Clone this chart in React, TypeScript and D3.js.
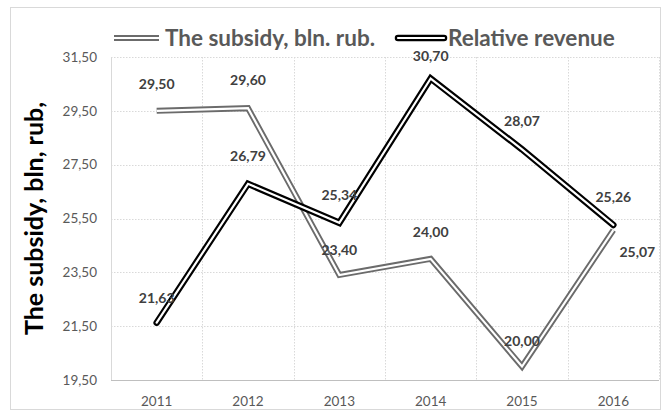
import React from "react";
import * as d3 from "d3";

const years = ["2011", "2012", "2013", "2014", "2015", "2016"];
const subsidy = [29.5, 29.6, 23.4, 24.0, 20.0, 25.07];
const revenue = [21.63, 26.79, 25.34, 30.7, 28.07, 25.26];
const yTicks = [19.5, 21.5, 23.5, 25.5, 27.5, 29.5, 31.5];
const seriesNames = ["The subsidy, bln. rub.", "Relative revenue"];
const yTitle = "The subsidy, bln, rub,";

// label offsets (dx, dy) relative to point
const subsidyLabelOff: [number, number][] = [[0, -27], [0, -28], [0, -25], [0, -27], [0, -25], [24, 22]];
const revenueLabelOff: [number, number][] = [[0, -25], [0, -28], [0, -28], [0, -22], [0, -28], [0, -28]];

const W = 668, H = 416;
const left = 111, right = 659, top = 57, bottom = 380;

const fmt = (v: number) => v.toFixed(2).replace(".", ",");

export default function App() {
  const x = d3.scaleBand<string>().domain(years).range([left, right]);
  const cx = (yr: string) => (x(yr) as number) + x.bandwidth() / 2;
  const y = d3.scaleLinear().domain([19.5, 31.5]).range([bottom, top]);
  const line = d3.line<number>().x((_, i) => cx(years[i])).y((d) => y(d));
  const font = "Lato, 'Open Sans', sans-serif";
  const boundaries = years.map((yr) => (x(yr) as number) + x.bandwidth());
  const legY = 38;

  return (
    <svg width={W} height={H} style={{ position: "absolute", left: 0, top: 0, fontFamily: font }}>
      <rect x={0} y={0} width={W} height={H} fill="#fff" />
      <rect x={10.5} y={7.5} width={650} height={402} fill="none" stroke="#d9d9d9" strokeWidth={1} />
      {/* gridlines */}
      {yTicks.slice(1).map((t) => (
        <line key={"h" + t} x1={left} x2={right} y1={Math.round(y(t)) + 0.5} y2={Math.round(y(t)) + 0.5} stroke="#d9d9d9" strokeDasharray="1.5,1.5" />
      ))}
      {boundaries.map((b, i) => (
        <line key={"v" + i} x1={Math.round(b) + 0.5} x2={Math.round(b) + 0.5} y1={top} y2={bottom} stroke="#d9d9d9" strokeDasharray="1.5,1.5" />
      ))}
      <line x1={left + 0.5} x2={left + 0.5} y1={top} y2={bottom} stroke="#d9d9d9" />
      <line x1={left} x2={right} y1={bottom + 0.5} y2={bottom + 0.5} stroke="#bfbfbf" />
      {/* y tick labels */}
      {yTicks.map((t) => (
        <text key={"yt" + t} x={97} y={y(t)} dy="0.35em" textAnchor="end" fontSize={13.5} fill="#595959">{fmt(t)}</text>
      ))}
      {/* x tick labels */}
      {years.map((yr) => (
        <text key={"xt" + yr} x={cx(yr)} y={401} dy="0.35em" textAnchor="middle" fontSize={13.5} fill="#595959">{yr}</text>
      ))}
      {/* y title */}
      <text transform={`translate(43,${(top + bottom) / 2}) rotate(-90)`} textAnchor="middle" fontSize={25} fontWeight="bold" fill="#000">{yTitle}</text>
      {/* lines */}
      <path d={line(subsidy) || ""} fill="none" stroke="#6b6b6b" strokeWidth={6} strokeLinejoin="miter" />
      <path d={line(subsidy) || ""} fill="none" stroke="#fff" strokeWidth={2.2} strokeLinejoin="miter" />
      <path d={line(revenue) || ""} fill="none" stroke="#000" strokeWidth={6.5} strokeLinejoin="miter" strokeLinecap="round" />
      <path d={line(revenue) || ""} fill="none" stroke="#fff" strokeWidth={2.2} strokeLinejoin="miter" strokeLinecap="round" />
      {/* data labels */}
      {subsidy.map((v, i) => (
        <text key={"sl" + i} x={cx(years[i]) + subsidyLabelOff[i][0]} y={y(v) + subsidyLabelOff[i][1]} dy="0.35em" textAnchor="middle" fontSize={14} fontWeight="bold" fill="#404040">{fmt(v)}</text>
      ))}
      {revenue.map((v, i) => (
        <text key={"rl" + i} x={cx(years[i]) + revenueLabelOff[i][0]} y={y(v) + revenueLabelOff[i][1]} dy="0.35em" textAnchor="middle" fontSize={14} fontWeight="bold" fill="#404040">{fmt(v)}</text>
      ))}
      {/* legend */}
      <g>
        <line x1={114} x2={159} y1={legY} y2={legY} stroke="#6b6b6b" strokeWidth={6} />
        <line x1={114} x2={159} y1={legY} y2={legY} stroke="#fff" strokeWidth={2.2} />
        <text x={165} y={legY} dy="0.35em" fontSize={22.5} fontWeight="bold" fill="#595959">{seriesNames[0]}</text>
        <line x1={398} x2={444} y1={legY} y2={legY} stroke="#000" strokeWidth={6.5} strokeLinecap="round" />
        <line x1={398} x2={444} y1={legY} y2={legY} stroke="#fff" strokeWidth={2.2} strokeLinecap="round" />
        <text x={448} y={legY} dy="0.35em" fontSize={22.5} fontWeight="bold" fill="#595959">{seriesNames[1]}</text>
      </g>
    </svg>
  );
}
